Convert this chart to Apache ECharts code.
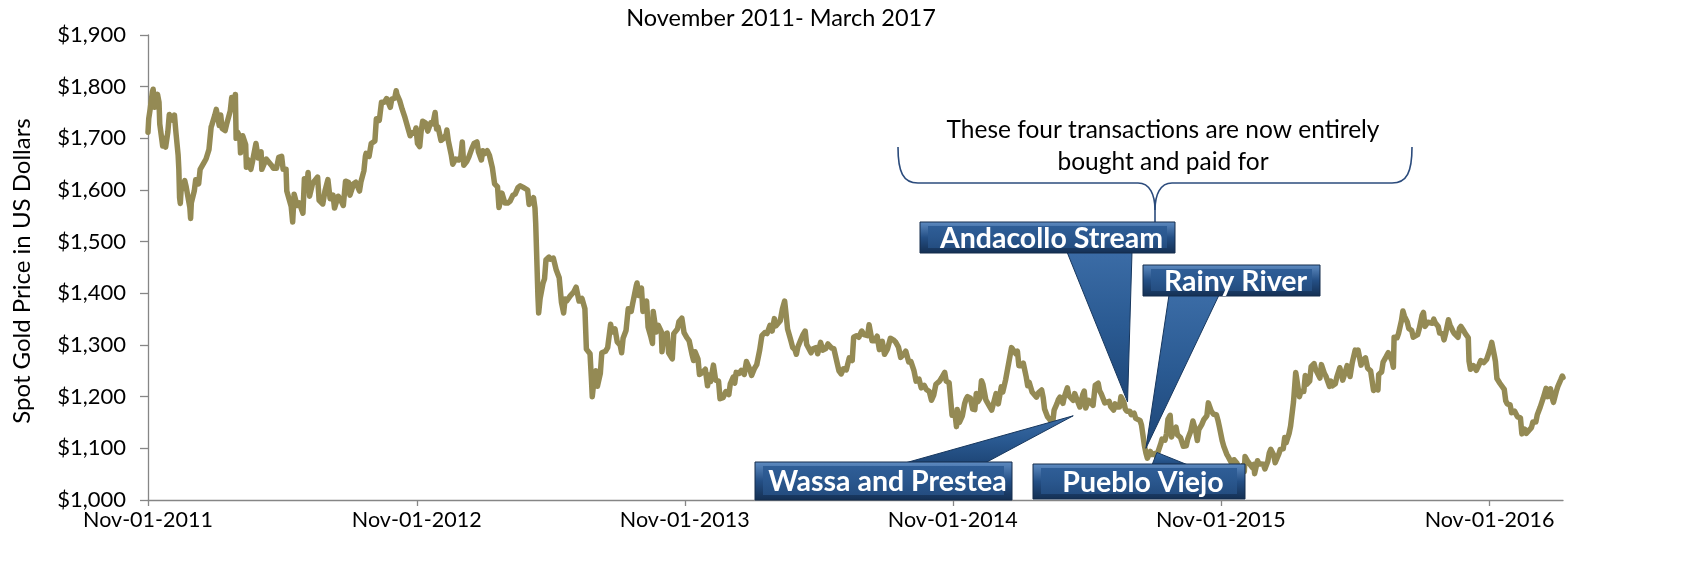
<!DOCTYPE html>
<html><head><meta charset="utf-8">
<script src="https://cdn.jsdelivr.net/npm/echarts@6/dist/echarts.min.js"></script>
<style>html,body{margin:0;padding:0;background:#fff}#c{width:1686px;height:584px}</style>
</head><body><div id="c"></div>
<script>
// ---------- DATA (spot gold, US$) ----------
const gold2011 = [['2011-11-01',1712],['2011-11-02',1738],['2011-11-04',1757],['2011-11-07',1790],['2011-11-08',1795],['2011-11-10',1760],['2011-11-14',1785],['2011-11-16',1770],['2011-11-17',1728],['2011-11-21',1685],['2011-11-22',1700],['2011-11-25',1683],['2011-11-28',1712],['2011-11-30',1746],['2011-12-02',1745],['2011-12-05',1735],['2011-12-07',1745],['2011-12-09',1712],['2011-12-12',1668],['2011-12-13',1640],['2011-12-14',1585],['2011-12-15',1574],['2011-12-16',1598],['2011-12-19',1610],['2011-12-21',1618],['2011-12-23',1606],['2011-12-28',1566],['2011-12-29',1545],['2011-12-30',1575]];
const gold2012 = [['2012-01-03',1598],['2012-01-05',1620],['2012-01-09',1612],['2012-01-11',1640],['2012-01-13',1642],['2012-01-17',1655],['2012-01-19',1660],['2012-01-23',1678],['2012-01-25',1680],['2012-01-26',1722],['2012-01-27',1726],['2012-01-31',1745],['2012-02-02',1756],['2012-02-06',1725],['2012-02-08',1745],['2012-02-10',1719],['2012-02-14',1715],['2012-02-16',1727],['2012-02-21',1753],['2012-02-23',1779],['2012-02-27',1772],['2012-02-28',1785],['2012-02-29',1700],['2012-03-02',1712],['2012-03-05',1703],['2012-03-06',1672],['2012-03-09',1705],['2012-03-13',1688],['2012-03-14',1644],['2012-03-16',1659],['2012-03-20',1640],['2012-03-22',1653],['2012-03-27',1690],['2012-03-30',1662],['2012-04-03',1674],['2012-04-04',1640],['2012-04-10',1660],['2012-04-12',1660],['2012-04-17',1648],['2012-04-20',1642],['2012-04-24',1642],['2012-04-27',1663],['2012-05-01',1665],['2012-05-03',1640],['2012-05-07',1640],['2012-05-08',1598],['2012-05-10',1598],['2012-05-14',1568],['2012-05-16',1538],['2012-05-18',1592],['2012-05-22',1570],['2012-05-25',1575],['2012-05-30',1555],['2012-06-01',1622],['2012-06-05',1617],['2012-06-06',1634],['2012-06-08',1588],['2012-06-12',1612],['2012-06-15',1618],['2012-06-19',1625],['2012-06-21',1580],['2012-06-26',1573],['2012-06-29',1598],['2012-07-03',1620],['2012-07-06',1583],['2012-07-10',1590],['2012-07-12',1565],['2012-07-17',1588],['2012-07-20',1582],['2012-07-24',1570],['2012-07-27',1617],['2012-07-31',1615],['2012-08-02',1590],['2012-08-07',1612],['2012-08-10',1615],['2012-08-15',1598],['2012-08-17',1616],['2012-08-21',1637],['2012-08-23',1665],['2012-08-24',1671],['2012-08-28',1665],['2012-08-31',1690],['2012-09-05',1695],['2012-09-07',1738],['2012-09-11',1735],['2012-09-14',1770],['2012-09-18',1770],['2012-09-21',1777],['2012-09-26',1760],['2012-09-28',1776],['2012-10-02',1778],['2012-10-04',1792],['2012-10-05',1785],['2012-10-09',1772],['2012-10-12',1757],['2012-10-16',1740],['2012-10-19',1725],['2012-10-23',1705],['2012-10-25',1711],['2012-10-29',1710],['2012-10-31',1720],['2012-11-02',1690],['2012-11-05',1684],['2012-11-07',1714],['2012-11-09',1733],['2012-11-13',1730],['2012-11-16',1714],['2012-11-20',1730],['2012-11-23',1728],['2012-11-26',1750],['2012-11-28',1718],['2012-11-30',1722],['2012-12-04',1696],['2012-12-07',1699],['2012-12-11',1707],['2012-12-12',1716],['2012-12-14',1695],['2012-12-18',1668],['2012-12-20',1650],['2012-12-24',1660],['2012-12-28',1658],['2012-12-31',1664]];
const gold2013 = [['2013-01-02',1693],['2013-01-04',1648],['2013-01-08',1655],['2013-01-11',1664],['2013-01-15',1680],['2013-01-18',1690],['2013-01-22',1693],['2013-01-24',1674],['2013-01-28',1658],['2013-01-30',1676],['2013-02-01',1670],['2013-02-05',1676],['2013-02-08',1667],['2013-02-12',1643],['2013-02-14',1640],['2013-02-15',1612],['2013-02-19',1606],['2013-02-21',1566],['2013-02-25',1594],['2013-02-27',1596],['2013-03-01',1575],['2013-03-05',1575],['2013-03-08',1578],['2013-03-12',1590],['2013-03-15',1592],['2013-03-19',1605],['2013-03-22',1608],['2013-03-26',1605],['2013-04-01',1600],['2013-04-03',1572],['2013-04-05',1576],['2013-04-09',1585],['2013-04-11',1565],['2013-04-12',1535],['2013-04-15',1395],['2013-04-16',1362],['2013-04-18',1390],['2013-04-22',1420],['2013-04-24',1428],['2013-04-26',1465],['2013-04-30',1470],['2013-05-02',1466],['2013-05-06',1468],['2013-05-10',1445],['2013-05-14',1430],['2013-05-17',1383],['2013-05-20',1362],['2013-05-22',1389],['2013-05-24',1385],['2013-05-29',1395],['2013-06-03',1403],['2013-06-06',1412],['2013-06-10',1385],['2013-06-14',1390],['2013-06-18',1370],['2013-06-20',1292],['2013-06-21',1295],['2013-06-25',1283],['2013-06-27',1230],['2013-06-28',1200],['2013-07-01',1240],['2013-07-03',1250],['2013-07-05',1220],['2013-07-09',1245],['2013-07-11',1285],['2013-07-16',1288],['2013-07-19',1295],['2013-07-23',1340],['2013-07-25',1325],['2013-07-29',1331],['2013-08-01',1306],['2013-08-05',1300],['2013-08-07',1285],['2013-08-09',1313],['2013-08-13',1328],['2013-08-16',1370],['2013-08-20',1365],['2013-08-22',1380],['2013-08-27',1415],['2013-08-28',1420],['2013-08-30',1396],['2013-09-03',1410],['2013-09-05',1365],['2013-09-10',1385],['2013-09-12',1335],['2013-09-16',1315],['2013-09-18',1303],['2013-09-19',1365],['2013-09-23',1325],['2013-09-26',1338],['2013-09-30',1326],['2013-10-01',1287],['2013-10-03',1318],['2013-10-08',1323],['2013-10-10',1285],['2013-10-15',1273],['2013-10-17',1322],['2013-10-22',1331],['2013-10-24',1345],['2013-10-28',1352],['2013-10-31',1324],['2013-11-04',1314],['2013-11-07',1308],['2013-11-11',1281],['2013-11-13',1270],['2013-11-15',1287],['2013-11-19',1273],['2013-11-21',1243],['2013-11-25',1247],['2013-11-29',1253],['2013-12-02',1221],['2013-12-04',1242],['2013-12-06',1229],['2013-12-10',1261],['2013-12-13',1232],['2013-12-17',1230],['2013-12-19',1196],['2013-12-23',1198],['2013-12-27',1210],['2013-12-31',1204]];
const gold2014 = [['2014-01-02',1225],['2014-01-06',1238],['2014-01-08',1226],['2014-01-10',1247],['2014-01-14',1245],['2014-01-17',1251],['2014-01-21',1243],['2014-01-24',1268],['2014-01-28',1255],['2014-01-31',1241],['2014-02-04',1255],['2014-02-07',1262],['2014-02-11',1290],['2014-02-14',1318],['2014-02-18',1324],['2014-02-21',1322],['2014-02-25',1338],['2014-02-28',1327],['2014-03-03',1351],['2014-03-05',1337],['2014-03-07',1339],['2014-03-11',1347],['2014-03-14',1370],['2014-03-17',1385],['2014-03-19',1359],['2014-03-21',1331],['2014-03-25',1311],['2014-03-28',1295],['2014-03-31',1291],['2014-04-02',1282],['2014-04-04',1296],['2014-04-08',1310],['2014-04-11',1320],['2014-04-14',1327],['2014-04-16',1301],['2014-04-22',1285],['2014-04-24',1292],['2014-04-29',1295],['2014-05-01',1283],['2014-05-05',1305],['2014-05-08',1290],['2014-05-12',1293],['2014-05-15',1302],['2014-05-20',1294],['2014-05-23',1293],['2014-05-28',1262],['2014-05-30',1250],['2014-06-02',1244],['2014-06-05',1254],['2014-06-09',1252],['2014-06-13',1275],['2014-06-17',1270],['2014-06-19',1315],['2014-06-23',1318],['2014-06-26',1315],['2014-06-30',1327],['2014-07-03',1320],['2014-07-08',1318],['2014-07-10',1339],['2014-07-14',1308],['2014-07-17',1308],['2014-07-21',1317],['2014-07-24',1291],['2014-07-28',1307],['2014-07-31',1282],['2014-08-04',1292],['2014-08-08',1313],['2014-08-12',1310],['2014-08-15',1306],['2014-08-19',1296],['2014-08-22',1276],['2014-08-26',1282],['2014-08-29',1288],['2014-09-02',1267],['2014-09-05',1268],['2014-09-09',1251],['2014-09-12',1230],['2014-09-16',1234],['2014-09-19',1217],['2014-09-23',1222],['2014-09-26',1214],['2014-09-30',1210],['2014-10-03',1193],['2014-10-06',1203],['2014-10-09',1224],['2014-10-14',1230],['2014-10-17',1237],['2014-10-21',1247],['2014-10-23',1230],['2014-10-27',1227],['2014-10-29',1225],['2014-10-31',1164],['2014-11-04',1167],['2014-11-06',1142],['2014-11-07',1175],['2014-11-10',1150],['2014-11-14',1163],['2014-11-17',1186],['2014-11-19',1195],['2014-11-21',1200],['2014-11-25',1197],['2014-11-28',1176],['2014-12-01',1175],['2014-12-03',1206],['2014-12-05',1190],['2014-12-08',1197],['2014-12-10',1231],['2014-12-12',1224],['2014-12-16',1194],['2014-12-18',1196],['2014-12-22',1179],['2014-12-24',1174],['2014-12-30',1206]];
const gold2015 = [['2015-01-02',1186],['2015-01-06',1219],['2015-01-08',1209],['2015-01-12',1233],['2015-01-14',1232],['2015-01-16',1264],['2015-01-20',1295],['2015-01-22',1298],['2015-01-26',1283],['2015-01-28',1288],['2015-01-30',1260],['2015-02-03',1260],['2015-02-05',1265],['2015-02-09',1238],['2015-02-11',1221],['2015-02-13',1228],['2015-02-17',1209],['2015-02-19',1206],['2015-02-23',1199],['2015-02-26',1208],['2015-03-02',1213],['2015-03-04',1199],['2015-03-06',1176],['2015-03-10',1161],['2015-03-13',1156],['2015-03-17',1149],['2015-03-19',1174],['2015-03-23',1187],['2015-03-25',1195],['2015-03-27',1199],['2015-03-31',1187],['2015-04-02',1200],['2015-04-06',1217],['2015-04-08',1202],['2015-04-10',1201],['2015-04-14',1193],['2015-04-16',1206],['2015-04-20',1191],['2015-04-23',1180],['2015-04-27',1204],['2015-04-29',1211],['2015-05-01',1178],['2015-05-05',1193],['2015-05-07',1190],['2015-05-11',1183],['2015-05-14',1222],['2015-05-18',1226],['2015-05-20',1211],['2015-05-22',1206],['2015-05-27',1188],['2015-05-29',1190],['2015-06-02',1191],['2015-06-04',1181],['2015-06-08',1174],['2015-06-10',1186],['2015-06-12',1180],['2015-06-16',1180],['2015-06-18',1200],['2015-06-22',1189],['2015-06-24',1176],['2015-06-26',1172],['2015-06-30',1172],['2015-07-02',1165],['2015-07-06',1168],['2015-07-08',1158],['2015-07-10',1161],['2015-07-14',1154],['2015-07-16',1145],['2015-07-20',1105],['2015-07-22',1091],['2015-07-24',1081],['2015-07-28',1094],['2015-07-30',1088],['2015-08-03',1090],['2015-08-05',1085],['2015-08-07',1091],['2015-08-11',1108],['2015-08-13',1118],['2015-08-17',1116],['2015-08-19',1128],['2015-08-21',1156],['2015-08-24',1164],['2015-08-26',1122],['2015-08-28',1134],['2015-09-01',1141],['2015-09-03',1126],['2015-09-07',1121],['2015-09-09',1119],['2015-09-11',1104],['2015-09-15',1105],['2015-09-17',1118],['2015-09-21',1133],['2015-09-24',1153],['2015-09-28',1132],['2015-09-30',1115],['2015-10-02',1136],['2015-10-06',1146],['2015-10-09',1156],['2015-10-13',1163],['2015-10-15',1188],['2015-10-19',1172],['2015-10-22',1166],['2015-10-26',1165],['2015-10-28',1155],['2015-10-30',1142],['2015-11-03',1114],['2015-11-05',1104],['2015-11-09',1089],['2015-11-11',1084],['2015-11-13',1083],['2015-11-17',1068],['2015-11-19',1078],['2015-11-23',1071],['2015-11-25',1072],['2015-11-27',1057],['2015-12-01',1067],['2015-12-03',1055],['2015-12-04',1084],['2015-12-08',1074],['2015-12-10',1074],['2015-12-14',1063],['2015-12-16',1069],['2015-12-17',1051],['2015-12-21',1076],['2015-12-23',1070],['2015-12-29',1069],['2015-12-31',1060]];
const gold2016 = [['2016-01-04',1075],['2016-01-06',1091],['2016-01-08',1098],['2016-01-12',1087],['2016-01-14',1072],['2016-01-19',1089],['2016-01-21',1098],['2016-01-25',1099],['2016-01-27',1121],['2016-01-29',1111],['2016-02-02',1129],['2016-02-04',1143],['2016-02-08',1190],['2016-02-10',1190],['2016-02-11',1247],['2016-02-12',1238],['2016-02-16',1200],['2016-02-18',1210],['2016-02-22',1210],['2016-02-24',1241],['2016-02-26',1224],['2016-03-01',1230],['2016-03-03',1258],['2016-03-07',1264],['2016-03-09',1253],['2016-03-11',1256],['2016-03-15',1236],['2016-03-17',1262],['2016-03-21',1245],['2016-03-23',1240],['2016-03-28',1220],['2016-03-30',1230],['2016-04-01',1221],['2016-04-05',1225],['2016-04-07',1238],['2016-04-11',1256],['2016-04-13',1246],['2016-04-15',1232],['2016-04-19',1250],['2016-04-21',1260],['2016-04-25',1239],['2016-04-28',1266],['2016-05-02',1290],['2016-05-04',1282],['2016-05-06',1290],['2016-05-10',1261],['2016-05-12',1270],['2016-05-16',1275],['2016-05-19',1255],['2016-05-23',1250],['2016-05-25',1231],['2016-05-27',1212],['2016-05-31',1217],['2016-06-02',1213],['2016-06-03',1243],['2016-06-07',1248],['2016-06-09',1267],['2016-06-13',1277],['2016-06-16',1285],['2016-06-21',1270],['2016-06-23',1257],['2016-06-24',1315],['2016-06-28',1314],['2016-06-30',1322],['2016-07-04',1347],['2016-07-06',1366],['2016-07-08',1356],['2016-07-12',1344],['2016-07-14',1332],['2016-07-18',1328],['2016-07-20',1315],['2016-07-22',1317],['2016-07-26',1320],['2016-07-28',1330],['2016-08-01',1357],['2016-08-03',1363],['2016-08-05',1336],['2016-08-09',1344],['2016-08-11',1347],['2016-08-15',1342],['2016-08-17',1350],['2016-08-19',1343],['2016-08-23',1336],['2016-08-25',1323],['2016-08-29',1322],['2016-08-31',1310],['2016-09-02',1321],['2016-09-06',1349],['2016-09-08',1339],['2016-09-12',1327],['2016-09-14',1322],['2016-09-19',1315],['2016-09-21',1332],['2016-09-23',1336],['2016-09-27',1327],['2016-09-29',1322],['2016-10-03',1314],['2016-10-04',1269],['2016-10-06',1253],['2016-10-10',1260],['2016-10-12',1255],['2016-10-14',1251],['2016-10-18',1263],['2016-10-20',1270],['2016-10-24',1266],['2016-10-26',1268],['2016-10-28',1272],['2016-11-01',1289],['2016-11-03',1299],['2016-11-04',1305],['2016-11-08',1276],['2016-11-09',1268],['2016-11-11',1235],['2016-11-15',1226],['2016-11-17',1226],['2016-11-21',1214],['2016-11-23',1192],['2016-11-25',1186],['2016-11-29',1184],['2016-12-01',1169],['2016-12-05',1172],['2016-12-07',1170],['2016-12-09',1161],['2016-12-13',1159],['2016-12-15',1128],['2016-12-19',1137],['2016-12-21',1129],['2016-12-23',1131],['2016-12-28',1140],['2016-12-30',1151]];
const gold2017 = [['2017-01-03',1151],['2017-01-05',1165],['2017-01-09',1180],['2017-01-11',1183],['2017-01-13',1197],['2017-01-17',1216],['2017-01-19',1200],['2017-01-23',1215],['2017-01-25',1199],['2017-01-27',1189],['2017-01-31',1211],['2017-02-02',1220],['2017-02-06',1233],['2017-02-08',1240],['2017-02-09',1237]];

const xTickDates = ['2011-11-01','2012-11-01','2013-11-01','2014-11-01','2015-11-01','2016-11-01'];
const yMin = 1000, yMax = 1900, yStep = 100;
const titleText = 'November 2011- March 2017';
const yAxisTitle = 'Spot Gold Price in US Dollars';
const braceLines = ['These four transactions are now entirely', 'bought and paid for'];
const calloutLabels = ['Andacollo Stream', 'Rainy River', 'Wassa and Prestea', 'Pueblo Viejo'];
const calloutTipDates = ['2015-06-27', '2015-07-22', '2015-04-14', '2015-08-06'];
const calloutTipPrices = [1190, 1100, 1163, 1092];

// ---------- BUILD ----------
function ts(s){const p=s.split('-').map(Number);return Date.UTC(p[0],p[1]-1,p[2]);}
const allRows = [].concat(gold2011,gold2012,gold2013,gold2014,gold2015,gold2016,gold2017);
const seriesData = allRows.map(r=>[ts(r[0]), r[1]]);
const xTicks = xTickDates.map(ts);
const MON = ['Jan','Feb','Mar','Apr','May','Jun','Jul','Aug','Sep','Oct','Nov','Dec'];
function fmtDate(v){const d=new Date(v);const dd=String(d.getUTCDate()).padStart(2,'0');return MON[d.getUTCMonth()]+'-'+dd+'-'+d.getUTCFullYear();}
function fmtMoney(v){return '$'+v.toLocaleString('en-US');}

const FONT = 'Lato';
const chart = echarts.init(document.getElementById('c'), null, {renderer:'canvas'});
const option = {
  animation:false,
  backgroundColor:'#ffffff',
  grid:{left:148, right:123, top:35, bottom:84, containLabel:false, outerBoundsMode:'none'},
  xAxis:{
    type:'value', min:seriesData[0][0], max:seriesData[seriesData.length-1][0],
    splitLine:{show:false},
    axisLine:{show:true, onZero:false, lineStyle:{color:'#868686', width:1.3}},
    axisTick:{show:true, inside:false, length:6, customValues:xTicks, lineStyle:{color:'#868686', width:1.3}},
    axisLabel:{show:true, customValues:xTicks, formatter:fmtDate, color:'#000', fontFamily:FONT, fontSize:21.5, margin:9}
  },
  yAxis:{
    type:'value', min:yMin, max:yMax, interval:yStep,
    splitLine:{show:false},
    axisLine:{show:true, lineStyle:{color:'#868686', width:1.3}},
    axisTick:{show:true, inside:false, length:8, lineStyle:{color:'#868686', width:1.3}},
    axisLabel:{formatter:fmtMoney, color:'#000', fontFamily:FONT, fontSize:22, margin:22}
  },
  series:[{
    type:'line', data:seriesData, showSymbol:false, symbol:'none', smooth:false,
    lineStyle:{color:'#948A54', width:5.5, join:'round', cap:'round'},
    z:2
  }]
};
chart.setOption(option);

// ---------- ANNOTATIONS ----------
function px(date, price){return chart.convertToPixel({gridIndex:0}, [ts(date), price]);}
const tips = calloutTipDates.map((d,i)=>px(d, calloutTipPrices[i]));

const boxRects = [ [920,222,1175,253], [1143,265,1320,296], [755,462,1012,500], [1033,464,1245,499] ];
const wedgeBases = [ [[1067,252],[1132,252]], [[1169,295],[1219,295]], [[905,463],[985,463]], [[1152,465],[1188,465]] ];

const blueGrad = (c1,c2,c3)=>({type:'linear',x:0,y:0,x2:0,y2:1,colorStops:[{offset:0,color:c1},{offset:0.5,color:c2},{offset:1,color:c3}]});
const BRACE = {stroke:'#2B4B7C', lineWidth:1.6, fill:null};
const g = [];
g.push({type:'text', z:100, style:{text:titleText, x:781, y:18, textAlign:'center', textVerticalAlign:'middle', font:'23.5px '+FONT, fill:'#000'}});
g.push({type:'text', z:100, x:22, y:271, rotation:Math.PI/2, style:{text:yAxisTitle, x:0, y:0, textAlign:'center', textVerticalAlign:'middle', font:'24px '+FONT, fill:'#000'}});
// brace
const bz = (x1,y1,cx1,cy1,cx2,cy2,x2,y2)=>({type:'bezierCurve', z:100, shape:{x1:x1,y1:y1,cpx1:cx1,cpy1:cy1,cpx2:cx2,cpy2:cy2,x2:x2,y2:y2}, style:BRACE});
const ln = (x1,y1,x2,y2)=>({type:'line', z:100, shape:{x1:x1,y1:y1,x2:x2,y2:y2}, style:BRACE});
g.push(bz(898,147, 898,172, 903,183, 918,183));
g.push(ln(918,183,1138,183));
g.push(bz(1138,183, 1150,183, 1155,195, 1155,210));
g.push(ln(1155,210,1155,222));
g.push(bz(1155,210, 1155,195, 1160,183, 1172,183));
g.push(ln(1172,183,1392,183));
g.push(bz(1392,183, 1407,183, 1412,172, 1412,147));
g.push({type:'text', z:100, style:{text:braceLines[0], x:1163, y:130, textAlign:'center', textVerticalAlign:'middle', font:'24.5px '+FONT, fill:'#000'}});
g.push({type:'text', z:100, style:{text:braceLines[1], x:1163, y:162, textAlign:'center', textVerticalAlign:'middle', font:'24.5px '+FONT, fill:'#000'}});
// wedges
calloutLabels.forEach((lab,i)=>{
  const b = wedgeBases[i], t = tips[i];
  g.push({type:'polygon', z:101, shape:{points:[b[0], b[1], t]}, style:{fill:blueGrad('#3B6CA6','#2A5A92','#1E4677'), stroke:'#17375E', lineWidth:1}});
});
// boxes
calloutLabels.forEach((lab,i)=>{
  const [x0,y0,x1,y1] = boxRects[i];
  const w=x1-x0, h=y1-y0, ins=5;
  g.push({type:'rect', z:102, shape:{x:x0,y:y0,width:w,height:h}, style:{fill:blueGrad('#5F8CC2','#244F85','#142F52'), stroke:'#142C4C', lineWidth:1}});
  g.push({type:'rect', z:103, shape:{x:x0+ins+3,y:y0+ins-1,width:w-2*ins-6,height:h-2*ins+1}, style:{fill:blueGrad('#2F5E97','#2A578E','#244D80')}});
  g.push({type:'text', z:104, style:{text:lab, x:(x0+x1)/2+4, y:(y0+y1)/2+1, textAlign:'center', textVerticalAlign:'middle', font:'bold 28.5px '+FONT, fill:'#ffffff', shadowColor:'rgba(0,0,0,0.5)', shadowBlur:2, shadowOffsetX:1, shadowOffsetY:1}});
});
chart.setOption({graphic:{elements:g}});
</script>
</body></html>
